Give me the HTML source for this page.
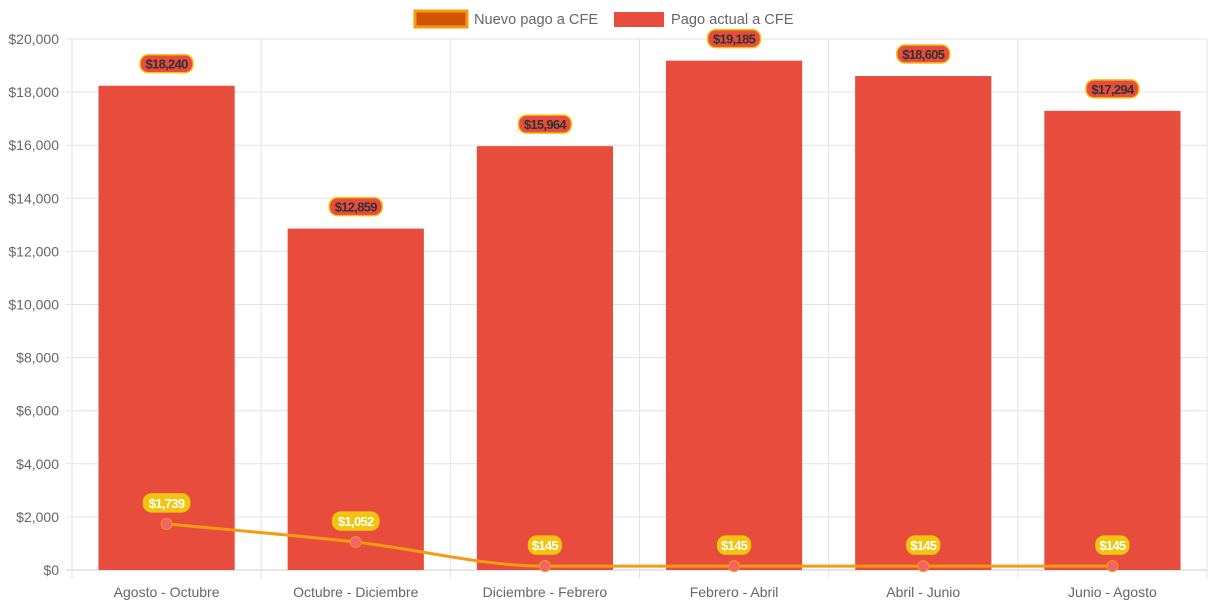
<!DOCTYPE html>
<html><head><meta charset="utf-8"><style>
body{margin:0;background:#fff;}
svg{display:block;font-family:"Liberation Sans",Arial,sans-serif;}
</style></head><body>
<svg id="c" width="1213" height="606"></svg>
<script>
const categories=["Agosto - Octubre","Octubre - Diciembre","Diciembre - Febrero","Febrero - Abril","Abril - Junio","Junio - Agosto"];
const actualValues=[18240,12859,15964,19185,18605,17294];
const newValues=[1739,1052,145,145,145,145];
const yTicks=[0,2000,4000,6000,8000,10000,12000,14000,16000,18000,20000];
const yMax=20000;
const X0=72,X1=1207,Y0=570,Y1=39;
const NS="http://www.w3.org/2000/svg";
const svg=document.getElementById('c');
const fmt=v=>'$'+v.toLocaleString('en-US');
const cw=(X1-X0)/categories.length;
const xC=i=>X0+cw*(i+0.5);
const yS=v=>Y0-(v/yMax)*(Y0-Y1);
function mk(t,a,p){const e=document.createElementNS(NS,t);for(const k in a)e.setAttribute(k,a[k]);(p||svg).appendChild(e);return e;}
yTicks.forEach(t=>{
 const l=mk('line',{x1:X0-6,x2:X1,y1:yS(t),y2:yS(t),stroke:t===0?'#ccc':'#e3e3e3','stroke-width':1});
 
 
 const tx=mk('text',{x:X0-13,y:yS(t)+5,'text-anchor':'end','font-size':14,fill:'#666'});
 tx.textContent=fmt(t);
 
 
});
for(let i=0;i<=categories.length;i++){
 const l=mk('line',{x1:X0+cw*i,x2:X0+cw*i,y1:Y1,y2:Y0+9,stroke:'#e3e3e3','stroke-width':1});
 
 
}
categories.forEach((c,i)=>{
 const tx=mk('text',{x:xC(i),y:597,'text-anchor':'middle','font-size':14,fill:'#666'});
 tx.textContent=c;
 
 
});
const bw=cw*0.72;
actualValues.forEach((v,i)=>{
 const r=mk('rect',{x:xC(i)-bw/2,y:yS(v),width:bw,height:Y0-yS(v),fill:'#e74c3c'});
 
 
});
const pts=newValues.map((v,i)=>[xC(i),yS(v)]);
const n=pts.length,d=[],m=[];
for(let i=0;i<n-1;i++)d.push((pts[i+1][1]-pts[i][1])/(pts[i+1][0]-pts[i][0]));
for(let i=0;i<n;i++){if(i===0)m.push(d[0]);else if(i===n-1)m.push(d[n-2]);else m.push(d[i-1]*d[i]<=0?0:(d[i-1]+d[i])/2);}
for(let i=0;i<n-1;i++){if(d[i]===0){m[i]=0;m[i+1]=0;}}
let p=`M${pts[0][0]},${pts[0][1]}`;
for(let i=0;i<n-1;i++){const h=(pts[i+1][0]-pts[i][0])/3;p+=` C${pts[i][0]+h},${pts[i][1]+m[i]*h} ${pts[i+1][0]-h},${pts[i+1][1]-m[i+1]*h} ${pts[i+1][0]},${pts[i+1][1]}`;}
const ln=mk('path',{d:p,fill:'none',stroke:'#f39c12','stroke-width':3});


pts.forEach(q=>{
 const c=mk('circle',{cx:q[0],cy:q[1],r:5.5,fill:'#f1646c',stroke:'#f39c12','stroke-width':1});
 
 
});
function label(x,y,t,fill,stroke,color,name){
 const g=mk('g',{});
 
 
 const w=t.length*6.7+6;
 mk('rect',{x:x-w/2,y:y-9,width:w,height:18,rx:8,fill:fill,stroke:stroke,'stroke-width':1.5},g);
 const tx=mk('text',{x:x,y:y+5,'text-anchor':'middle','font-size':13,'font-weight':'bold',fill:color,'letter-spacing':'-0.7'},g);
 tx.textContent=t;
}
actualValues.forEach((v,i)=>label(xC(i),yS(v)-22,fmt(v),'#e74c3c','#f1c40f','#333','bar-value-label'));
newValues.forEach((v,i)=>label(xC(i),yS(v)-21,fmt(v),'#f1c40f','#f1c40f','#fff','line-value-label'));
const lg=mk('g',{});


const l1=mk('rect',{x:415,y:11,width:52,height:16,fill:'#d35400',stroke:'#f39c12','stroke-width':3},lg);


const t1=mk('text',{x:474,y:24,'font-size':14.6,fill:'#666'},lg);t1.textContent='Nuevo pago a CFE';


const l2=mk('rect',{x:614,y:12,width:50,height:15,fill:'#e74c3c'},lg);


const t2=mk('text',{x:671,y:24,'font-size':14.6,fill:'#666'},lg);t2.textContent='Pago actual a CFE';


</script>
</body></html>
